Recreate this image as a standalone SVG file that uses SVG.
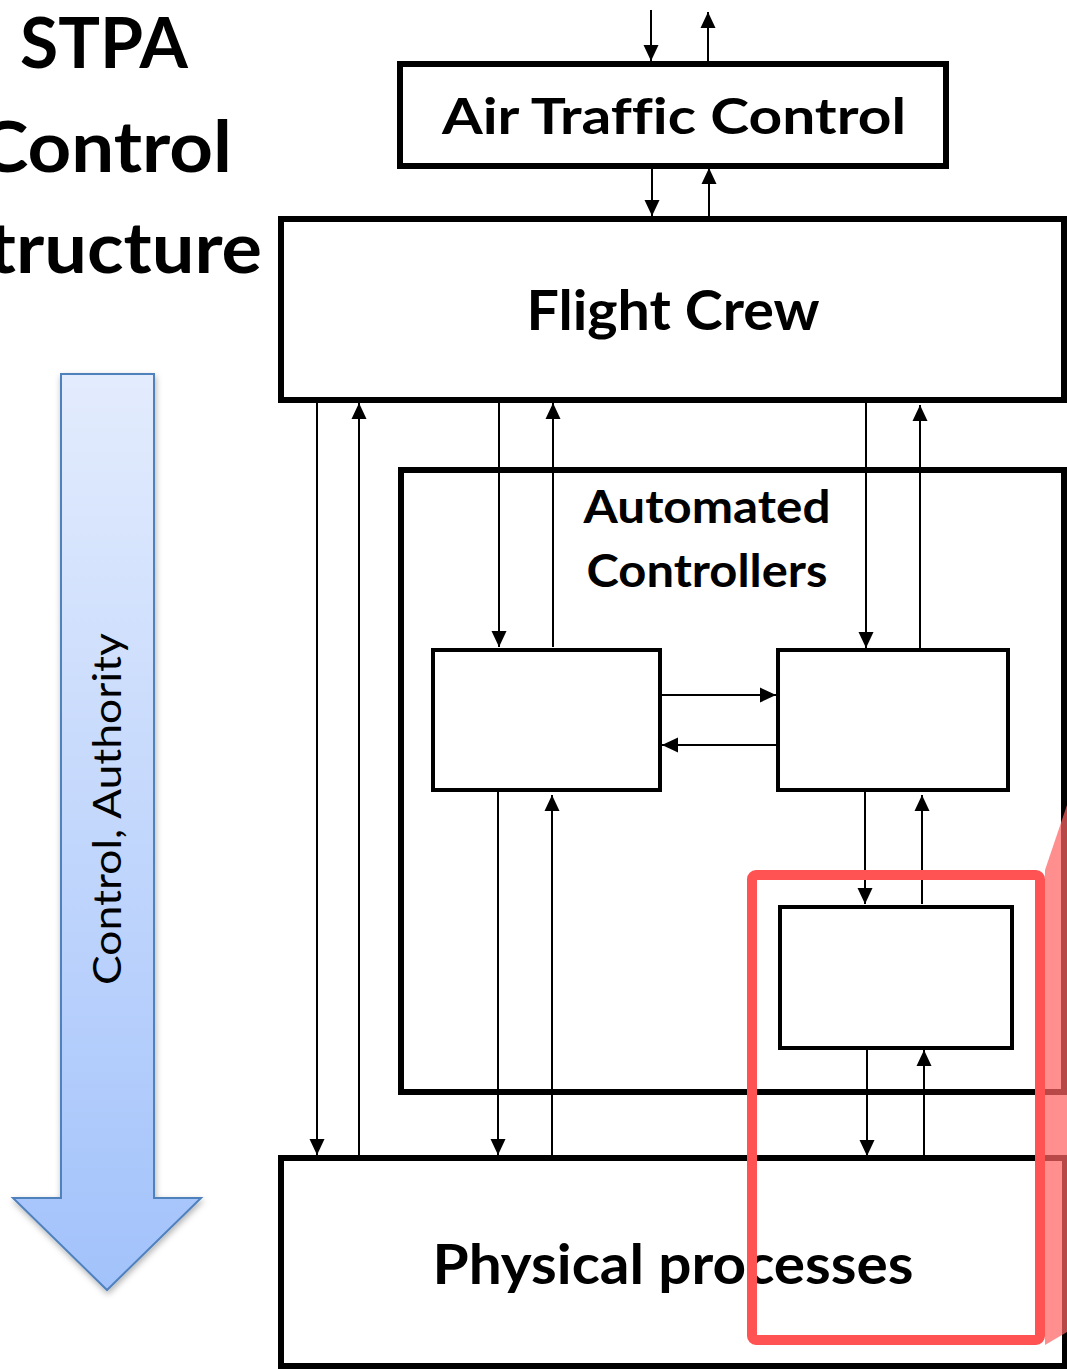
<svg xmlns="http://www.w3.org/2000/svg" width="1067" height="1369" viewBox="0 0 1067 1369">
<defs>
<style>
.box{fill:#fff;stroke:#000;stroke-width:6}
.ibox{fill:#fff;stroke:#000;stroke-width:4}
.lbl{font-family:Lato,"Open Sans","Liberation Sans",sans-serif;font-weight:bold;fill:#000;text-anchor:middle;font-variant-ligatures:none}
.con line{stroke:#000;stroke-width:2;marker-end:url(#ah)}
</style>
<marker id="ah" viewBox="0 0 16 16" refX="16" refY="8" markerWidth="16" markerHeight="16" markerUnits="userSpaceOnUse" orient="auto">
<path d="M0,0.5 L16,8 L0,15.5 z" fill="#000"/>
</marker>
<linearGradient id="bg" x1="0" y1="0" x2="0" y2="1">
<stop offset="0" stop-color="#e3ecfd"/>
<stop offset="1" stop-color="#a2c2fb"/>
</linearGradient>
<filter id="sh" x="-20%" y="-5%" width="140%" height="110%">
<feDropShadow dx="1" dy="3" stdDeviation="3" flood-color="#000" flood-opacity="0.3"/>
</filter>
</defs>
<rect width="1067" height="1369" fill="#fff"/>

<g id="title">
<text class="lbl" x="104" y="68" font-size="70" textLength="168" lengthAdjust="spacingAndGlyphs">STPA</text>
<text class="lbl" x="105" y="172" font-size="70" textLength="254" lengthAdjust="spacingAndGlyphs">Control</text>
<text class="lbl" x="105" y="273" font-size="70" textLength="314" lengthAdjust="spacingAndGlyphs">Structure</text>
</g>

<g id="authority-arrow">
<path d="M61,374 H154 V1198 H201 L107,1290 L13,1198 H61 Z" fill="url(#bg)" stroke="#4f81bd" stroke-width="2" filter="url(#sh)"/>
<text transform="translate(121,809) rotate(-90)" x="0" y="0" font-family="Lato,'Open Sans','Liberation Sans',sans-serif" font-size="38" text-anchor="middle" fill="#000" textLength="352" lengthAdjust="spacingAndGlyphs">Control, Authority</text>
</g>

<g id="atc">
<rect class="box" x="400" y="64" width="546" height="102"/>
<text class="lbl" x="674" y="134" font-size="50" textLength="464" lengthAdjust="spacingAndGlyphs">Air Traffic Control</text>
</g>

<g id="flight-crew">
<rect class="box" x="281" y="219" width="783" height="181"/>
<text class="lbl" x="673" y="330" font-size="55" textLength="293" lengthAdjust="spacingAndGlyphs">Flight Crew</text>
</g>

<g id="automated-controllers">
<rect class="box" x="401" y="470" width="663" height="622"/>
<text class="lbl" x="707" y="523" font-size="46" textLength="247" lengthAdjust="spacingAndGlyphs">Automated</text>
<text class="lbl" x="707" y="587" font-size="46" textLength="241" lengthAdjust="spacingAndGlyphs">Controllers</text>
</g>

<g id="controller-left">
<rect class="ibox" x="433" y="650" width="227" height="140"/>
</g>
<g id="controller-right">
<rect class="ibox" x="778" y="650" width="230" height="140"/>
</g>
<g id="controller-lower">
<rect class="ibox" x="780" y="907" width="232" height="141"/>
</g>

<g id="physical-processes">
<rect class="box" x="281" y="1158" width="784" height="208"/>
<text class="lbl" x="673" y="1284" font-size="56" textLength="481" lengthAdjust="spacingAndGlyphs">Physical processes</text>
</g>

<g id="connectors" class="con">
<line x1="651" y1="10" x2="651" y2="61"/>
<line x1="708" y1="61" x2="708" y2="12"/>
<line x1="652" y1="167" x2="652" y2="216"/>
<line x1="709" y1="216" x2="709" y2="168"/>
<line x1="317" y1="403" x2="317" y2="1155"/>
<line x1="359" y1="1155" x2="359" y2="403"/>
<line x1="499" y1="403" x2="499" y2="647"/>
<line x1="553" y1="647" x2="553" y2="403"/>
<line x1="866" y1="403" x2="866" y2="648"/>
<line x1="920" y1="648" x2="920" y2="405"/>
<line x1="662" y1="695" x2="776" y2="695"/>
<line x1="776" y1="745" x2="662" y2="745"/>
<line x1="498" y1="792" x2="498" y2="1155"/>
<line x1="552" y1="1155" x2="552" y2="795"/>
<line x1="865" y1="792" x2="865" y2="904"/>
<line x1="922" y1="904" x2="922" y2="795"/>
<line x1="867" y1="1050" x2="867" y2="1156"/>
<line x1="924" y1="1156" x2="924" y2="1050"/>
</g>

<g id="highlight">
<polygon points="1045,870 1067,805 1067,1332 1045,1345" fill="rgb(255,100,100)" fill-opacity="0.72"/>
<rect x="752" y="875" width="288" height="465" rx="4" fill="none" stroke="#ff5252" stroke-width="10"/>
</g>
</svg>
